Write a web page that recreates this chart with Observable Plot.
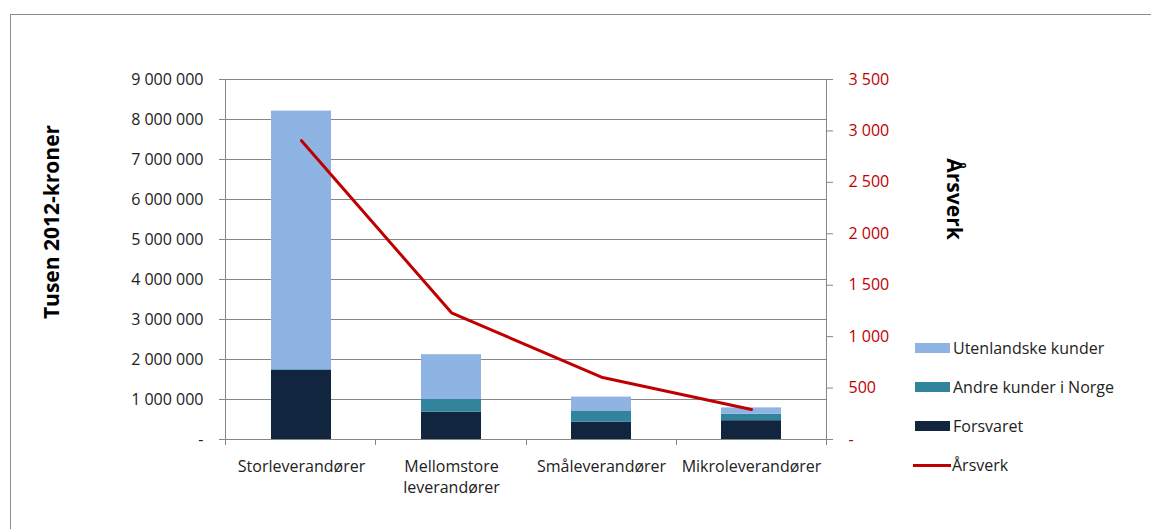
<!DOCTYPE html>
<html>
<head>
<meta charset="utf-8">
<script src="https://cdn.jsdelivr.net/npm/d3@7"></script>
<script src="https://cdn.jsdelivr.net/npm/@observablehq/plot@0.6"></script>
<style>
  html, body { margin: 0; padding: 0; background: #fff; }
  #wrap { position: relative; width: 1151px; height: 529px; overflow: hidden; font-family: "Open Sans", sans-serif; color: #222; }
  #border { position: absolute; left: 10px; top: 14px; width: 1300px; height: 700px; border: 1px solid #8c8c8c; box-sizing: border-box; }
  #chart { position: absolute; left: 0; top: 0; }
  .ytitle { position: absolute; font-weight: bold; font-size: 21px; color: #000; white-space: nowrap; }
  #legend { position: absolute; left: 0; top: 0; font-size: 16px; color: #222; }
  .li { position: absolute; left: 915px; height: 20px; display: flex; align-items: center; white-space: nowrap; }
  .sw { width: 35px; height: 10px; margin-right: 3px; }
  .ln { width: 38px; height: 3px; margin-right: 1px; background: #c00000; }
</style>
</head>
<body>
<div id="wrap">
  <div id="border"></div>
  <div id="chart"></div>
  <div class="ytitle" id="ltitle">Tusen 2012-kroner</div>
  <div class="ytitle" id="rtitle">Årsverk</div>
  <div id="legend"></div>
</div>
<script>
const categories = ["Storleverandører", "Mellomstore\nleverandører", "Småleverandører", "Mikroleverandører"];
const seriesNames = ["Forsvaret", "Andre kunder i Norge", "Utenlandske kunder"];
const seriesColors = ["#12253f", "#31849b", "#8eb4e3"];
const forsvaret = [1725000, 680000, 430000, 470000];
const andreKunder = [20000, 320000, 270000, 160000];
const utenlandske = [6465000, 1120000, 360000, 160000];
const arsverk = [2905, 1232, 606, 292];
const leftTicks = [0, 1000000, 2000000, 3000000, 4000000, 5000000, 6000000, 7000000, 8000000, 9000000];
const rightTicks = [0, 500, 1000, 1500, 2000, 2500, 3000, 3500];
const lineColor = "#c00000";

const leftMax = 9000000, rightMax = 3500;
const k = leftMax / rightMax;

const fmtNum = v => v === 0 ? "-" : d3.format(",")(v).replace(/,/g, " ");

const table = [];
categories.forEach((c, i) => {
  table.push({cat: c, series: seriesNames[0], value: forsvaret[i]});
  table.push({cat: c, series: seriesNames[1], value: andreKunder[i]});
  table.push({cat: c, series: seriesNames[2], value: utenlandske[i]});
});
const lineData = categories.map((c, i) => ({cat: c, v: arsverk[i]}));

const frameMarks = (index, scales, values, dims) => {
  const g = d3.create("svg:g").attr("stroke", "#868686").attr("stroke-width", 1);
  const x0 = dims.marginLeft, x1 = dims.width - dims.marginRight;
  const yb = dims.height - dims.marginBottom, yt = dims.marginTop;
  g.append("line").attr("x1", x0 + 0.5).attr("x2", x0 + 0.5).attr("y1", yt).attr("y2", yb + 6);
  g.append("line").attr("x1", x1 + 0.5).attr("x2", x1 + 0.5).attr("y1", yt).attr("y2", yb + 6);
  const n = categories.length, step = (x1 - x0) / n;
  for (let i = 1; i < n; i++) {
    const xx = Math.round(x0 + i * step) + 0.5;
    g.append("line").attr("x1", xx).attr("x2", xx).attr("y1", yb).attr("y2", yb + 6);
  }
  return g.node();
};

const plot = Plot.plot({
  width: 1151,
  height: 529,
  marginLeft: 225,
  marginRight: 325,
  marginTop: 79,
  marginBottom: 90,
  style: {fontFamily: "'Open Sans', sans-serif", fontSize: "16px", color: "#222", background: "transparent"},
  x: {domain: categories, paddingInner: 0.6, paddingOuter: 0.3, axis: null},
  y: {domain: [0, leftMax], axis: null},
  color: {domain: seriesNames, range: seriesColors},
  marks: [
    Plot.ruleY(leftTicks, {stroke: "#868686", strokeOpacity: 1}),
    frameMarks,
    Plot.barY(table, {x: "cat", y: "value", fill: "series", order: seriesNames}),
    Plot.line(lineData, {x: "cat", y: d => d.v * k, stroke: lineColor, strokeWidth: 3}),
    Plot.axisY({ticks: leftTicks, tickFormat: fmtNum, tickSize: 6, tickPadding: 16, stroke: "#868686", fill: "#222", label: null, fontSize: 16}),
    Plot.axisY({anchor: "right", ticks: rightTicks.map(v => v * k), tickFormat: d => fmtNum(Math.round(d / k)), tickSize: 6, tickPadding: 16, stroke: "#868686", fill: lineColor, label: null, fontSize: 16}),
    Plot.axisX({tickSize: 0, tickPadding: 18, lineHeight: 1.3, fill: "#222", label: null, fontSize: 16})
  ]
});
document.getElementById("chart").appendChild(plot);

// axis titles
const lt = document.getElementById("ltitle");
lt.style.left = "51px"; lt.style.top = "222px";
lt.style.transform = "translate(-50%, -50%) rotate(-90deg)";
const rt = document.getElementById("rtitle");
rt.style.left = "955px"; rt.style.top = "199px";
rt.style.transform = "translate(-50%, -50%) rotate(90deg)";

// legend
const legend = document.getElementById("legend");
const legendItems = [
  {name: seriesNames[2], color: seriesColors[2], y: 348},
  {name: seriesNames[1], color: seriesColors[1], y: 387},
  {name: seriesNames[0], color: seriesColors[0], y: 426},
  {name: "Årsverk", color: lineColor, y: 465, line: true}
];
legendItems.forEach(it => {
  const d = document.createElement("div");
  d.className = "li";
  d.style.top = (it.y - 10) + "px";
  if (it.line) d.style.left = "913px";
  const s = document.createElement("span");
  s.className = it.line ? "ln" : "sw";
  s.style.background = it.color;
  d.appendChild(s);
  const t = document.createElement("span");
  t.textContent = it.name;
  d.appendChild(t);
  legend.appendChild(d);
});
</script>
</body>
</html>
